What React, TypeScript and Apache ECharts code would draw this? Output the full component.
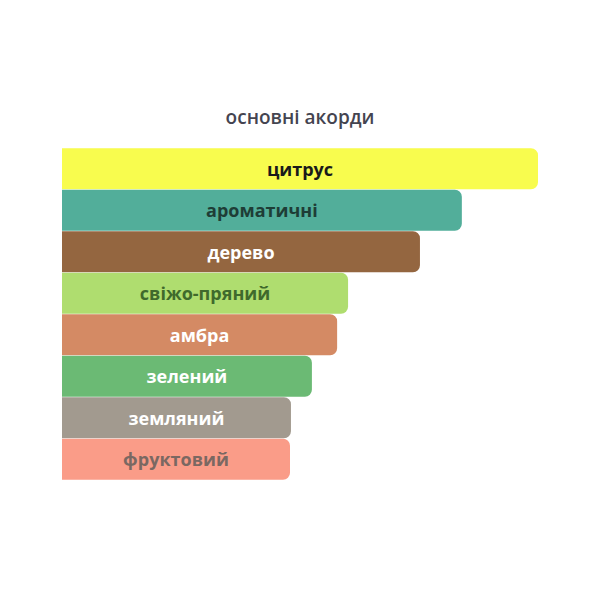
import { useEffect, useRef } from 'react';
import * as echarts from 'echarts';

const accords = ['цитрус', 'ароматичні', 'дерево', 'свіжо-пряний', 'амбра', 'зелений', 'земляний', 'фруктовий'];
const strengths = [100, 84, 75.2, 60.1, 57.8, 52.5, 48.1, 47.9];
const barColors = ['#f8fc4e', '#52ae9a', '#946640', '#afdd6f', '#d48a64', '#6bba74', '#a29a8f', '#fa9c88'];
const textColors = ['#1a1a1a', '#1e3d36', '#ffffff', '#3f6a2c', '#ffffff', '#ffffff', '#ffffff', '#7a6862'];

const App = () => {
  const divRef = useRef<HTMLDivElement | null>(null);

  useEffect(() => {
    if (!divRef.current) return;
    const chart = echarts.init(divRef.current, null, { renderer: 'svg' });

    chart.setOption({
      animation: false,
      title: {
        text: 'основні акорди',
        left: 'center',
        top: 102,
        textStyle: { fontFamily: 'Open Sans', fontSize: 19, fontWeight: 600, color: '#444450' },
      },
      grid: { left: 62, right: 62, top: 148, bottom: 120 },
      xAxis: { type: 'value', min: 0, max: 100, show: false },
      yAxis: { type: 'category', data: accords, inverse: true, show: false },
      series: [
        {
          type: 'bar',
          barCategoryGap: '1%',
          data: strengths.map((v, i) => ({
            value: v,
            itemStyle: { color: barColors[i], borderRadius: [0, 7, 7, 0] },
            label: { color: textColors[i] },
          })),
          label: {
            show: true,
            position: 'inside',
            formatter: '{b}',
            fontFamily: 'Open Sans',
            fontSize: 18,
            fontWeight: 700,
          },
        },
      ],
    });

    return () => chart.dispose();
  }, []);

  return <div ref={divRef} style={{ width: 600, height: 600, margin: -8 }} />;
};

export default App;
